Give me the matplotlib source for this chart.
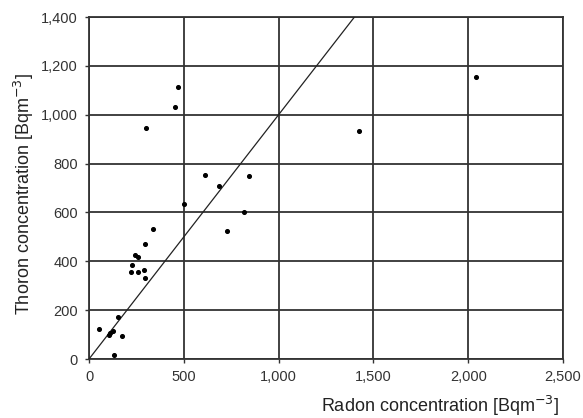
import matplotlib.pyplot as plt

plt.rcParams['font.family'] = ['Liberation Sans', 'DejaVu Sans']

# radon vs thoron concentrations
radon = [468, 452, 299, 612, 686, 846, 501, 339, 819, 726, 294, 243, 257,
         225, 223, 260, 290, 297, 155, 54, 111, 107, 125, 174, 130, 2043, 1424]
thoron = [1115, 1030, 944, 752, 707, 750, 634, 532, 602, 525, 469, 424, 416,
          386, 357, 357, 364, 331, 172, 123, 105, 98, 115, 95, 16, 1153, 932]
xticks = [0, 500, 1000, 1500, 2000, 2500]
yticks = [0, 200, 400, 600, 800, 1000, 1200, 1400]
ref_line = [0, 2500]  # y = x

fig = plt.figure(figsize=(5.83, 4.18), dpi=100)
ax = fig.add_axes([0.1527, 0.1411, 0.8130, 0.8182])

ax.plot(ref_line, ref_line, color='#222222', lw=0.9, zorder=3)
ax.scatter(radon, thoron, s=7, color='black', zorder=4)

ax.set_xlim(0, 2500)
ax.set_ylim(0, 1400)
ax.set_xticks(xticks)
ax.set_yticks(yticks)
ax.set_xticklabels(['{:,}'.format(v) for v in xticks])
ax.set_yticklabels(['{:,}'.format(v) for v in yticks])
ax.grid(True, color='#333333', lw=1.3)
ax.set_axisbelow(True)
for sp in ax.spines.values():
    sp.set_color('#333333')
    sp.set_linewidth(1.3)
ax.tick_params(length=3, width=1, color='#333333', labelsize=10.5,
               labelcolor='#333333', pad=5)

# axis titles placed in figure coords
fig.text(559 / 583, 1 - 412 / 418, 'Radon concentration [Bqm$^{-3}$]',
         fontsize=13, color='#222222', ha='right', va='baseline')
fig.text(24 / 583, 1 - 194 / 418, 'Thoron concentration [Bqm$^{-3}$]',
         fontsize=13, color='#222222', ha='center', va='center', rotation=90)

fig.savefig('out.png', dpi=100)
